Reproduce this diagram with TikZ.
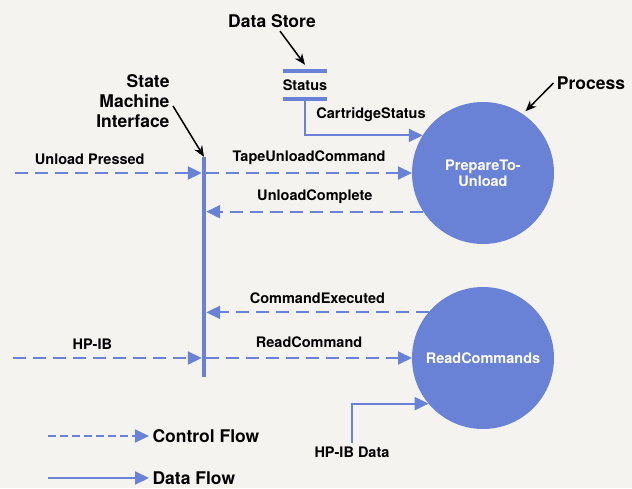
\documentclass[tikz,border=0pt]{standalone}
\usepackage{fontspec}
\setmainfont{TeX Gyre Heros}
\usetikzlibrary{arrows.meta}
\definecolor{flowblue}{RGB}{106,130,214}
\definecolor{paper}{RGB}{244,243,240}

\begin{document}
\begin{tikzpicture}[x=1pt,y=-1pt,
  font=\fontsize{14.5}{16}\selectfont\bfseries,
  proc/.style={circle,fill=flowblue,text=white,minimum size=142pt,
               inner sep=0pt,outer sep=0pt,align=center},
  ctrl/.style={draw=flowblue,line width=2pt,dash pattern=on 13pt off 7pt,
               -{Triangle[length=14pt,width=13pt]}},
  data/.style={draw=flowblue,line width=2pt,-{Triangle[length=14pt,width=13pt]}},
  callout/.style={draw=black,line width=1.5pt,-{Stealth[length=11pt,width=9pt]}},
  big/.style={font=\fontsize{17.5}{20}\selectfont\bfseries},
  lbl/.style={above=4pt}]
  \useasboundingbox[fill=paper] (0,0) rectangle (632,488);

  \node[proc] (prep)  at (483,173) {PrepareTo-\\Unload};
  \node[proc] (readc) at (483,358) {ReadCommands};
  \node[fill=flowblue,minimum width=4pt,minimum height=220pt,inner sep=0pt] (smi) at (204,267) {};
  \node[minimum width=42pt,minimum height=28pt,inner sep=0pt] (store) at (305,85) {Status};
  \draw[flowblue,line width=3.5pt] (store.north west) -- (store.north east)
    (store.south west) -- (store.south east);

  \node[big] (dslbl) at (272,21) {Data Store};
  \node[big] (proclbl) at (591,83) {Process};
  \node[big,align=right,anchor=east] (smilbl) at (173,101) {State\\Machine\\Interface};
  \draw[callout] ([xshift=8pt]dslbl.south) -- ([yshift=6pt]store.north);
  \draw[callout,shorten >=4pt] (proclbl.west) -- (prep.56);
  \draw[callout] ([yshift=-5pt]smilbl.east) -- (smi.north);

  \coordinate (unl) at (15,173);
  \draw[ctrl] (unl) -- (unl -| smi.west) node[pos=.4,lbl] {Unload Pressed};
  \draw[ctrl] (smi.east |- prep.west) -- (prep.west) node[midway,lbl] {TapeUnloadCommand};
  \draw[ctrl] (prep.213) -- (prep.213 -| smi.east) node[midway,lbl] {UnloadComplete};
  \draw[data] (store.south) |- (prep.148) node[pos=.78,above=9pt] {CartridgeStatus};

  \draw[ctrl] (readc.140) -- (readc.140 -| smi.east) node[midway,lbl] {CommandExecuted};
  \coordinate (hpib) at (13,358);
  \draw[ctrl] (hpib) -- (hpib -| smi.west) node[pos=.42,lbl] {HP-IB};
  \draw[ctrl] (smi.east |- readc.west) -- (readc.west) node[midway,above=6pt] {ReadCommand};
  \node (hpdlbl) at (352,452) {HP-IB Data};
  \draw[data] (hpdlbl) |- (readc.220);

  \coordinate (cfl) at (48,436);
  \node[big,anchor=west] (cflbl) at (149,436) {Control Flow};
  \draw[ctrl,dash pattern=on 8pt off 4pt] (cfl) -- (cflbl.west);
  \coordinate (dfl) at (48,478);
  \node[big,anchor=west] (dflbl) at (149,478) {Data Flow};
  \draw[data] (dfl) -- (dflbl.west);
\end{tikzpicture}
\end{document}
